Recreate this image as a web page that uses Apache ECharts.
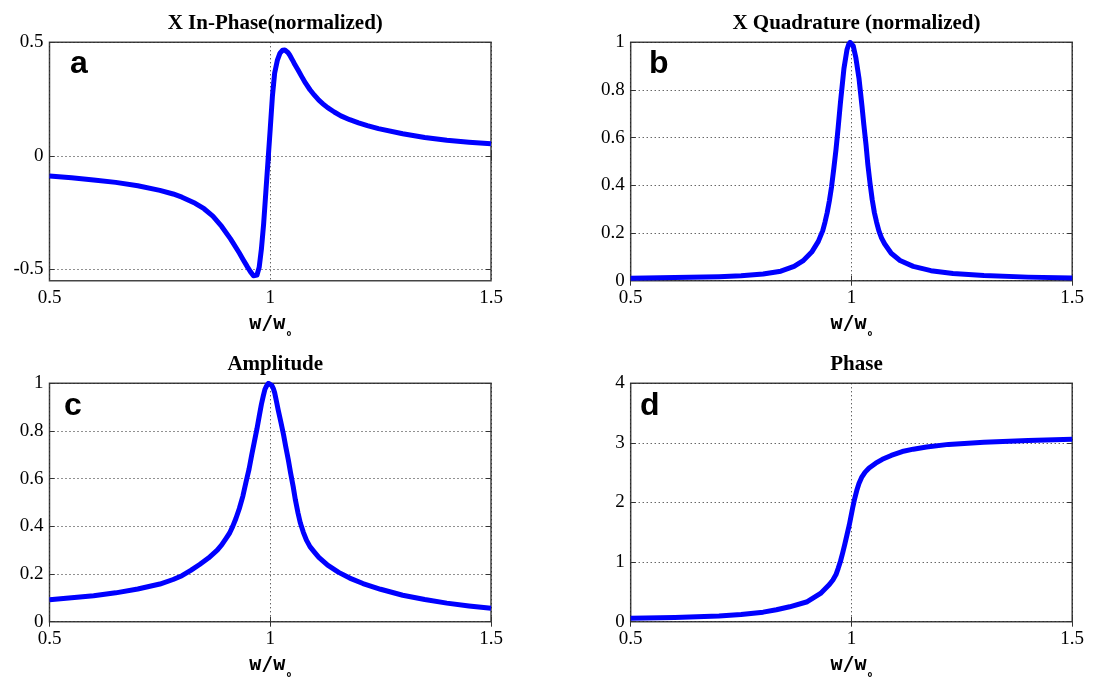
<!DOCTYPE html>
<html>
<head>
<meta charset="utf-8">
<script src="https://cdn.jsdelivr.net/npm/echarts@6/dist/echarts.min.js"></script>
<style>
  html, body { margin: 0; padding: 0; background: #fff; }
  #chart { width: 1094px; height: 683px; }
</style>
</head>
<body>
<div id="chart"></div>
<script>
// Driven oscillator response around resonance, frequency ratio w/w0 from 0.5 to 1.5

// (a) in-phase part, normalized
const inPhaseX = [0.50, 0.55, 0.60, 0.65, 0.70, 0.75, 0.78, 0.80, 0.83, 0.85, 0.87, 0.89, 0.91, 0.93, 0.938, 0.945, 0.950, 0.955,
                  0.962, 0.966, 0.970, 0.975, 0.980, 0.985, 0.990, 0.995, 1.000, 1.005, 1.010, 1.016, 1.022, 1.028, 1.033,
                  1.036, 1.040, 1.044, 1.048, 1.052, 1.056, 1.063, 1.071, 1.080, 1.090, 1.100, 1.110, 1.120, 1.130, 1.145,
                  1.160, 1.180, 1.200, 1.220, 1.245, 1.300, 1.350, 1.400, 1.450, 1.500];
const inPhaseY = [-0.089, -0.097, -0.106, -0.117, -0.132, -0.152, -0.168, -0.182, -0.209, -0.233, -0.266, -0.311, -0.366, -0.428,
                  -0.455, -0.478, -0.495, -0.510, -0.528, -0.533, -0.525, -0.490, -0.410, -0.300, -0.160, -0.020, 0.120,
                  0.265, 0.365, 0.420, 0.452, 0.465, 0.466, 0.463, 0.455, 0.444, 0.430, 0.416, 0.401, 0.378, 0.350, 0.320,
                  0.291, 0.267, 0.245, 0.228, 0.212, 0.193, 0.176, 0.159, 0.145, 0.133, 0.120, 0.097, 0.081, 0.069, 0.060,
                  0.053];

// (b) quadrature part, normalized
const quadX = [0.50, 0.60, 0.70, 0.75, 0.80, 0.84, 0.87, 0.89, 0.91, 0.925, 0.935, 0.940, 0.945, 0.950, 0.955, 0.960, 0.965, 0.970,
               0.975, 0.983, 0.990, 0.9935, 0.997, 1.000, 1.004, 1.010, 1.017, 1.024, 1.028, 1.033, 1.037, 1.042, 1.047,
               1.052, 1.057, 1.062, 1.068, 1.075, 1.090, 1.110, 1.140, 1.180, 1.230, 1.300, 1.400, 1.500];
const quadY = [0.010, 0.013, 0.017, 0.021, 0.028, 0.040, 0.060, 0.083, 0.120, 0.165, 0.210, 0.245, 0.285, 0.335, 0.395, 0.470,
               0.550, 0.645, 0.745, 0.890, 0.970, 0.990, 1.000, 0.998, 0.985, 0.935, 0.850, 0.730, 0.655, 0.570, 0.490,
               0.410, 0.340, 0.285, 0.245, 0.210, 0.180, 0.155, 0.115, 0.085, 0.060, 0.042, 0.030, 0.022, 0.015, 0.011];

// (c) amplitude
const ampX = [0.50, 0.55, 0.60, 0.65, 0.70, 0.75, 0.78, 0.80, 0.82, 0.84, 0.86, 0.88, 0.89, 0.90, 0.908, 0.915, 0.922, 0.93, 0.938,
              0.945, 0.952, 0.958, 0.964, 0.970, 0.975, 0.980, 0.984, 0.988, 0.992, 0.996, 1.000, 1.004, 1.007, 1.010,
              1.014, 1.018, 1.024, 1.030, 1.035, 1.041, 1.046, 1.052, 1.057, 1.063, 1.068, 1.075, 1.082, 1.090, 1.100,
              1.110, 1.130, 1.155, 1.180, 1.210, 1.250, 1.300, 1.350, 1.400, 1.450, 1.500];
const ampY = [0.092, 0.100, 0.109, 0.121, 0.137, 0.158, 0.177, 0.193, 0.215, 0.240, 0.267, 0.300, 0.322, 0.350, 0.372, 0.400,
              0.432, 0.475, 0.527, 0.585, 0.640, 0.699, 0.755, 0.810, 0.862, 0.912, 0.945, 0.975, 0.990, 1.000, 0.998,
              0.990, 0.978, 0.960, 0.925, 0.888, 0.838, 0.785, 0.735, 0.678, 0.625, 0.566, 0.510, 0.455, 0.415, 0.375,
              0.342, 0.315, 0.292, 0.270, 0.237, 0.207, 0.183, 0.160, 0.136, 0.111, 0.093, 0.078, 0.066, 0.056];

// (d) phase, radians
const phaseX = [0.50, 0.60, 0.70, 0.75, 0.80, 0.83, 0.86, 0.90, 0.93, 0.95, 0.958, 0.965, 0.970, 0.975, 0.980, 0.985, 0.990,
                0.995, 0.999, 1.003, 1.0075, 1.012, 1.017, 1.023, 1.031, 1.040, 1.055, 1.070, 1.090, 1.115, 1.140, 1.170,
                1.220, 1.300, 1.400, 1.500];
const phaseY = [0.057, 0.072, 0.095, 0.120, 0.160, 0.200, 0.250, 0.335, 0.475, 0.625, 0.700, 0.790, 0.895, 1.010, 1.150, 1.300,
                1.460, 1.620, 1.770, 1.920, 2.070, 2.200, 2.320, 2.420, 2.510, 2.580, 2.660, 2.725, 2.790, 2.855, 2.895,
                2.930, 2.975, 3.010, 3.040, 3.060];

// axis ranges and tick labels
const xTicks = { min: 0.5, max: 1.5, interval: 0.5 };
const inPhaseTicks = [-0.5, 0, 0.5];
const yRanges = [
  { min: -0.55, max: 0.5, values: inPhaseTicks },
  { min: 0, max: 1, interval: 0.2 },
  { min: 0, max: 1, interval: 0.2 },
  { min: 0, max: 4, interval: 1 }
];

const titles = ['X In-Phase(normalized)', 'X Quadrature (normalized)', 'Amplitude', 'Phase'];
const letters = ['a', 'b', 'c', 'd'];

const panels = [
  { left: 49.5, top: 42.3 },
  { left: 630.7, top: 42.3 },
  { left: 49.5, top: 383.3 },
  { left: 630.7, top: 383.3 }
];
const PW = 441.5, PH = 238.4;

const letterPos = [[70, 64], [649, 64], [64, 406], [640, 406]];

const zip = (xs, ys) => xs.map((x, i) => [x, ys[i]]);
const seriesData = [zip(inPhaseX, inPhaseY), zip(quadX, quadY), zip(ampX, ampY), zip(phaseX, phaseY)];

const fmt = v => String(parseFloat(Number(v).toFixed(2)));
const serif = '"Liberation Serif", "Times New Roman", serif';
const dotted = { color: '#222', width: 1, type: [1, 3] };

const grid = [], xAxis = [], yAxis = [], series = [], title = [], graphic = [];

panels.forEach((p, i) => {
  grid.push({ left: p.left, top: p.top, width: PW, height: PH, show: true,
              borderColor: '#444', borderWidth: 1.5, backgroundColor: '#fff', containLabel: false });

  const tick = { show: true, inside: true, length: 5, lineStyle: { color: '#333', width: 1 } };

  // bottom x axis with labels and grid
  xAxis.push({
    type: 'value', gridIndex: i, min: xTicks.min, max: xTicks.max, interval: xTicks.interval,
    position: 'bottom',
    axisLine: { show: false }, axisTick: tick,
    axisLabel: { color: '#000', fontFamily: serif, fontSize: 19, margin: 8, formatter: fmt },
    splitLine: { show: true, lineStyle: dotted },
    name: '{w|w/w}{s|o}', nameLocation: 'middle', nameGap: 33,
    nameTextStyle: {
      rich: {
        w: { fontFamily: '"DejaVu Sans Mono", monospace', fontWeight: 'bold', fontSize: 20, color: '#000', lineHeight: 20, verticalAlign: 'top' },
        s: { fontFamily: '"DejaVu Sans Mono", monospace', fontWeight: 'bold', fontSize: 8, color: '#000', lineHeight: 8, padding: [16, 0, 0, 1], verticalAlign: 'top' }
      }
    }
  });
  // top mirror axis, ticks only
  xAxis.push({
    type: 'value', gridIndex: i, min: xTicks.min, max: xTicks.max, interval: xTicks.interval,
    position: 'top', axisLine: { show: false }, axisTick: tick,
    axisLabel: { show: false }, splitLine: { show: false }
  });

  const yr = yRanges[i];
  const yTick = yr.values ? Object.assign({}, tick, { customValues: yr.values }) : tick;
  const yLeft = {
    type: 'value', gridIndex: i, min: yr.min, max: yr.max,
    position: 'left', axisLine: { show: false }, axisTick: yTick,
    axisLabel: { color: '#000', fontFamily: serif, fontSize: 19, margin: 6, formatter: fmt },
    splitLine: { show: true, lineStyle: dotted }
  };
  const yRight = {
    type: 'value', gridIndex: i, min: yr.min, max: yr.max,
    position: 'right', axisLine: { show: false }, axisTick: yTick,
    axisLabel: { show: false }, splitLine: { show: false }
  };
  if (yr.values) {
    yLeft.axisLabel.customValues = yr.values;
  } else {
    yLeft.interval = yr.interval;
    yRight.interval = yr.interval;
  }
  yAxis.push(yLeft, yRight);

  series.push({
    type: 'line', xAxisIndex: 2 * i, yAxisIndex: 2 * i, data: seriesData[i],
    showSymbol: false, smooth: false, clip: true,
    lineStyle: { color: '#0000ff', width: 5, join: 'round', cap: 'butt' }, z: 3
  });

  title.push({
    text: titles[i], left: p.left + PW / 2, top: p.top - 34, textAlign: 'center',
    textStyle: { fontFamily: serif, fontWeight: 'bold', fontSize: 21, color: '#000' }
  });

  graphic.push({
    type: 'text', x: letterPos[i][0], y: letterPos[i][1], z: 10,
    style: { text: letters[i], fill: '#000', font: 'bold 32px "Liberation Sans", Arial, sans-serif',
             verticalAlign: 'middle', align: 'left' }
  });
});

const chart = echarts.init(document.getElementById('chart'), null, { renderer: 'canvas' });
chart.setOption({
  backgroundColor: '#fff',
  animation: false,
  title, grid, xAxis, yAxis, series, graphic
});
</script>
</body>
</html>
